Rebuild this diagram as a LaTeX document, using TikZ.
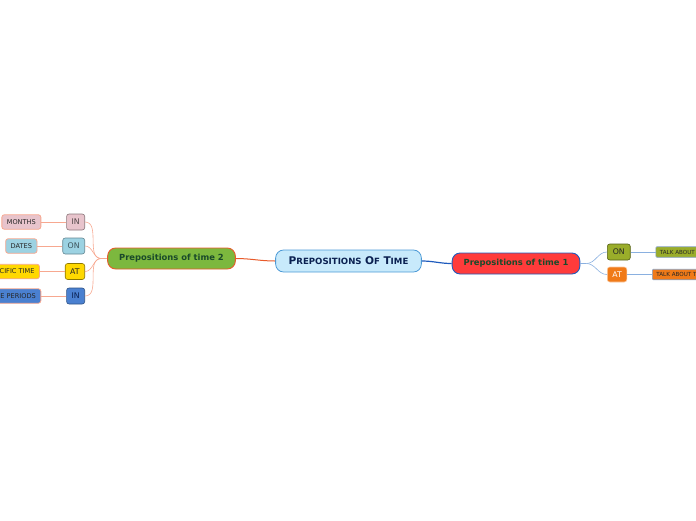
\documentclass[tikz,border=0pt]{standalone}
\usepackage{fontspec}
\setmainfont{DejaVu Sans}
\usetikzlibrary{positioning}
\definecolor{topicfill}{HTML}{C8EAFB}
\definecolor{topicline}{HTML}{4C9AD6}
\definecolor{navy}{HTML}{0A2050}
\definecolor{redfill}{HTML}{FF3B3B}
\definecolor{blueline}{HTML}{1E5BBD}
\definecolor{greenfill}{HTML}{7CB83E}
\definecolor{orangeline}{HTML}{E85A2A}
\definecolor{darkgreen}{HTML}{1A4A2A}
\definecolor{salmon}{HTML}{F7A890}
\definecolor{pinkfill}{HTML}{E8C4CC}
\definecolor{cyanfill}{HTML}{9CD2E2}
\definecolor{yellowfill}{HTML}{FFD800}
\definecolor{bluefill}{HTML}{4A80D0}
\definecolor{olivefill}{HTML}{9AAD2A}
\definecolor{amberfill}{HTML}{F07A18}
\definecolor{skyline}{HTML}{8AB0E0}
\newcommand\bigsmall[2]{{\fontsize{10.6}{10}\selectfont #1}{\fontsize{8.6}{8}\selectfont #2}}
\tikzset{
  topic/.style={draw=topicline, fill=topicfill, rounded corners=8pt, line width=0.8pt, minimum height=22pt, inner xsep=13pt, text=navy, font=\bfseries},
  main/.style={rounded corners=8pt, line width=0.9pt, minimum height=21pt, inner xsep=11.5pt, text=darkgreen, font=\fontsize{8.4}{9}\selectfont\bfseries},
  sub/.style={draw, rounded corners=2.5pt, line width=0.6pt, minimum height=16pt, inner xsep=5pt, inner ysep=1pt, font=\fontsize{7.8}{8}\selectfont},
  leaf/.style={draw=salmon, rounded corners=2.5pt, line width=0.8pt, minimum height=14.5pt, inner xsep=5pt, inner ysep=1pt, text=black!85, font=\fontsize{6.6}{7}\selectfont},
  tiny/.style={draw=skyline!70!gray, line width=0.6pt, rounded corners=1pt, minimum height=10.5pt, inner xsep=4pt, inner ysep=1pt, text=black!85, font=\fontsize{5.6}{6}\selectfont},
  twoline/.style={draw=salmon, line width=0.6pt},
  oneline/.style={draw=skyline, line width=0.6pt}
}
\begin{document}
\begin{tikzpicture}[x=1pt,y=-1pt]
    \clip (0,0) rectangle (696,520);
    \node[topic] (time) at (348.5,261){\bigsmall{P}{REPOSITIONS} \bigsmall{O}{F} \bigsmall{T}{IME}};
    \node[main, draw=blueline, fill=redfill] (t1) at (516,263.5){Prepositions of time 1};
    \node[main, draw=orangeline, fill=greenfill] (t2) at (171.5,258.5){Prepositions of time 2};
    \draw[orangeline, line width=1pt] (time.west) to[out=180,in=0] (t2.east);
    \draw[blueline, line width=1.2pt] (time.east) to[out=0,in=180] (t1.west);
    % left side
    \node[sub, draw=pinkfill!60!black, fill=pinkfill, text=pinkfill!35!black, anchor=east] (in1) at (85,222){IN};
    \node[sub, draw=cyanfill!65!black, fill=cyanfill, text=cyanfill!40!black, anchor=east] (on1) at (85,246){ON};
    \node[sub, draw=yellowfill!55!black, fill=yellowfill, text=black!85, anchor=east] (at1) at (85,271.5){AT};
    \node[sub, draw=bluefill!65!black, fill=bluefill, text=navy, anchor=east] (in2) at (85,296){IN};
    \node[leaf, fill=pinkfill, left=25pt of in1] (months){MONTHS};
    \node[leaf, fill=cyanfill, left=25pt of on1] (dates){DATES};
    \node[leaf, fill=yellowfill, left=25pt of at1] (spectime){SPECIFIC TIME};
    \node[leaf, fill=bluefill, left=25pt of in2] (periods){TIME PERIODS};
    \coordinate (j2) at ([xshift=-6pt]t2.west);
    \draw[twoline] (t2.west) -- (j2);
    \foreach \c/\l in {in1/months, on1/dates, at1/spectime, in2/periods}{
        \draw[twoline] (j2) to[out=180,in=0] (\c.east);
        \draw[twoline] (\c.west) -- (\l.east);
    }
    % right side
    \node[sub, draw=olivefill!55!black, fill=olivefill, text=black!85, anchor=west, inner xsep=5.5pt] (on2) at (607,252){ON};
    \node[sub, draw=amberfill!40!white, fill=amberfill, text=white, anchor=west, minimum height=15pt] (at2) at (607,274.5){AT};
    \node[tiny, fill=olivefill, right=25pt of on2] (days){TALK ABOUT DAYS};
    \node[tiny, fill=amberfill, right=25pt of at2] (clock){TALK ABOUT TIME};
    \coordinate (j1) at ([xshift=6pt]t1.east);
    \draw[oneline] (t1.east) -- (j1);
    \foreach \c/\l in {on2/days, at2/clock}{
        \draw[oneline] (j1) to[out=0,in=180] (\c.west);
        \draw[oneline] (\c.east) -- (\l.west);
    }
\end{tikzpicture}
\end{document}
